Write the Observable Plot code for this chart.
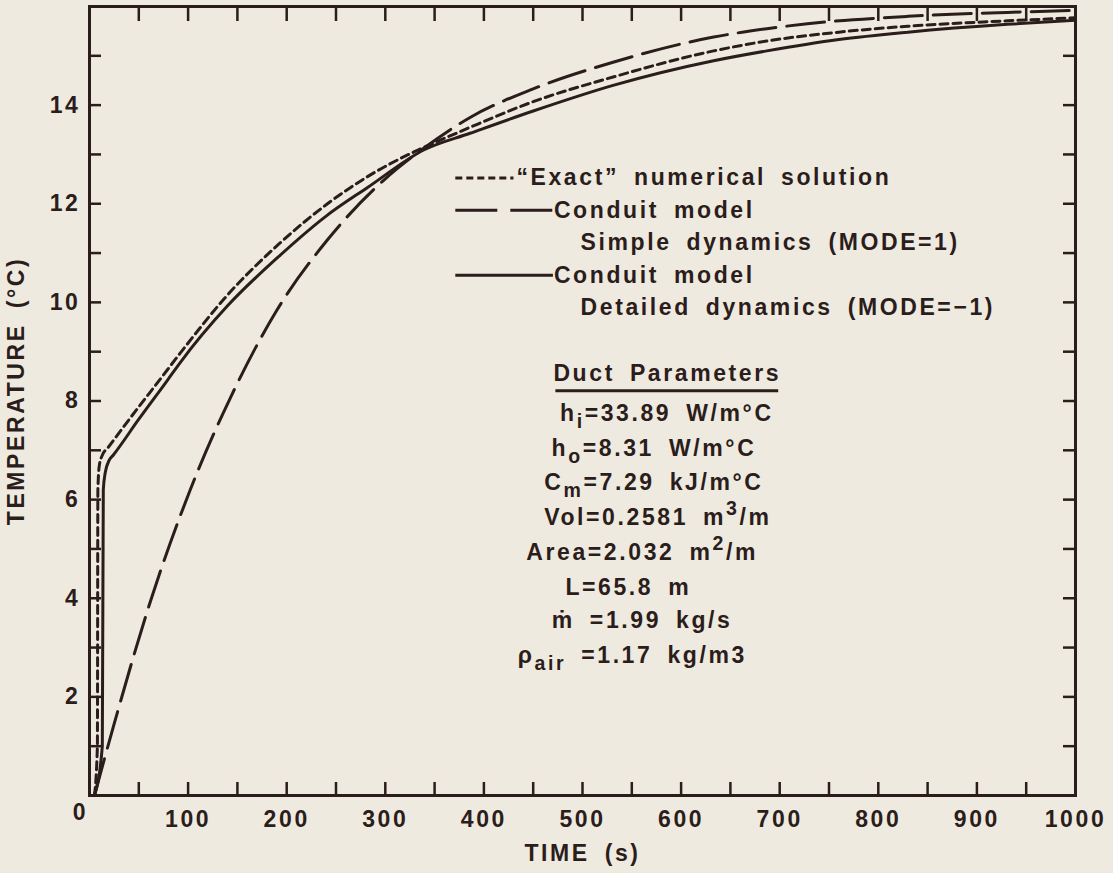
<!DOCTYPE html>
<html><head><meta charset="utf-8">
<script src="https://cdn.jsdelivr.net/npm/d3@7"></script>
<script src="https://cdn.jsdelivr.net/npm/@observablehq/plot@0.6"></script>
<style>
html,body{margin:0;padding:0;background:#efeadf;}
#chart svg{display:block;}
</style></head><body><div id="chart"></div>
<script>
// ---- data ----
const exactTime = [5, 8, 8.5, 10, 13, 19, 40, 72, 92, 140, 193, 240, 282, 329, 340, 386, 450, 531, 633, 687, 760, 830, 931, 1000];
const exactTemp = [0, 1, 6.2, 6.7, 6.9, 7.06, 7.62, 8.45, 8.97, 10.15, 11.2, 11.98, 12.55, 13.05, 13.15, 13.55, 14.07, 14.57, 15.1, 15.3, 15.48, 15.6, 15.71, 15.77];

const simpleTime = [5, 24, 62, 102, 143, 190, 241, 298, 340, 386, 450, 531, 633, 687, 728, 830, 931, 1000];
const simpleTemp = [0, 1.38, 3.95, 6.19, 8.07, 9.84, 11.26, 12.47, 13.14, 13.75, 14.33, 14.87, 15.38, 15.55, 15.65, 15.8, 15.88, 15.92];

const detailedTime = [5, 13, 14, 16, 20, 24, 50, 79, 92, 140, 193, 240, 282, 340, 386, 450, 531, 633, 687, 760, 830, 931, 1000];
const detailedTemp = [0, 1, 6.2, 6.55, 6.8, 6.9, 7.63, 8.42, 8.78, 9.93, 10.95, 11.75, 12.33, 13.1, 13.43, 13.88, 14.4, 14.9, 15.1, 15.33, 15.48, 15.64, 15.72];

const xTickLabels = [100, 200, 300, 400, 500, 600, 700, 800, 900, 1000];
const yTickLabels = [2, 4, 6, 8, 10, 12, 14];
const xMinorTicks = [50, 100, 150, 200, 250, 300, 350, 400, 450, 500, 550, 600, 650, 700, 750, 800, 850, 900, 950];
const yMinorTicks = [1, 2, 3, 4, 5, 6, 7, 8, 9, 10, 11, 12, 13, 14, 15];

const legendLabels = ["\u201CExact\u201D numerical solution", "Conduit model", "Simple dynamics (MODE=1)", "Conduit model", "Detailed dynamics (MODE=\u22121)"];
const legendTextX = [433, 471, 498, 471, 498];
const legendTextY = [12.52, 11.87, 11.22, 10.55, 9.90];
const legendLineX1 = [371, 371, 371];
const legendLineX2 = [430, 470, 470];
const legendLineY = [12.52, 11.87, 10.55];

const ductTitle = "Duct Parameters";
const ductLines = [
  [["h", ""], ["i", "sub"], ["=33.89 W/m\u00B0C", ""]],
  [["h", ""], ["o", "sub"], ["=8.31 W/m\u00B0C", ""]],
  [["C", ""], ["m", "sub"], ["=7.29 kJ/m\u00B0C", ""]],
  [["Vol=0.2581 m", ""], ["3", "sup"], ["/m", ""]],
  [["Area=2.032 m", ""], ["2", "sup"], ["/m", ""]],
  [["L=65.8 m", ""]],
  [["\u1E41 =1.99 kg/s", ""]],
  [["\u03C1", ""], ["air", "sub"], [" =1.17 kg/m3", ""]]
];
const ductX = [586, 573, 573, 577, 561, 547, 561, 551];
const ductY = [7.75, 7.04, 6.35, 5.64, 4.93, 4.22, 3.55, 2.84];
const ductTitleX = 586, ductTitleY = 8.56, ductRuleY = 8.21, ductRuleX1 = 473, ductRuleX2 = 699;

// ---- layout ----
const ink = "#2b1d1b";
const W = 1113, H = 873, mL = 89, mR = 38, mT = 6, mB = 78;
const innerH = H - mT - mB, innerW = W - mL - mR;
const FS = 23;

const rows = (t, v) => t.map((d, i) => ({t: d, T: v[i]}));
const exactRows = rows(exactTime, exactTemp);
const simpleRows = rows(simpleTime, simpleTemp);
const detailedRows = rows(detailedTime, detailedTemp);
const legendText = legendLabels.map((l, i) => ({label: l, x: legendTextX[i], y: legendTextY[i]}));
const legendLines = legendLineY.map((y, i) => ({x1: legendLineX1[i], x2: legendLineX2[i], y}));

const lineOpts = {x: "t", y: "T", stroke: ink, strokeWidth: 3, strokeLinejoin: "round", curve: "monotone-x"};

const plot = Plot.plot({
  width: W, height: H,
  marginLeft: mL, marginRight: mR, marginTop: mT, marginBottom: mB,
  x: {domain: [0, 1000]},
  y: {domain: [0, 16]},
  style: {background: "transparent", color: ink, fontFamily: "'Liberation Sans', Arial, Helvetica, 'DejaVu Sans', sans-serif", fontWeight: "bold", letterSpacing: "2.6px", wordSpacing: "6px", fontSize: FS + "px"},
  marks: [
    Plot.ruleX(xMinorTicks, {x: d => d, insetTop: innerH - 13, stroke: ink, strokeWidth: 2.5}),
    Plot.ruleX(xMinorTicks, {x: d => d, insetBottom: innerH - 15, stroke: ink, strokeWidth: 2.5}),
    Plot.ruleY(yMinorTicks, {y: d => d, insetRight: innerW - 12, stroke: ink, strokeWidth: 2.5}),
    Plot.ruleY(yMinorTicks, {y: d => d, insetLeft: innerW - 12, stroke: ink, strokeWidth: 2.5}),
    Plot.line(exactRows, {...lineOpts, strokeDasharray: "8,5"}),
    Plot.line(simpleRows, {...lineOpts, strokeDasharray: "38,11"}),
    Plot.line(detailedRows, lineOpts),
    Plot.frame({stroke: ink, strokeWidth: 3}),
    Plot.axisX(xTickLabels, {tickSize: 0, tickPadding: 15, fontSize: FS, label: null, tickFormat: d => String(d)}),
    Plot.axisY(yTickLabels, {tickSize: 0, tickPadding: 9, fontSize: FS, label: null, tickFormat: d => String(d)}),
    Plot.text(["0"], {x: 0, y: 0, text: d => d, dx: -9, dy: 17, fontSize: FS, fill: ink}),
    Plot.text(["TEMPERATURE (\u00B0C)"], {frameAnchor: "left", textAnchor: "middle", lineAnchor: "middle", text: d => d, rotate: -90, dx: -73, dy: -10, fontSize: FS, fill: ink}),
    Plot.text(["TIME (s)"], {frameAnchor: "bottom", textAnchor: "middle", lineAnchor: "middle", text: d => d, dy: 58, fontSize: FS, fill: ink}),
    // legend
    Plot.link([legendLines[0]], {x1: "x1", x2: "x2", y1: "y", y2: "y", stroke: ink, strokeWidth: 3, strokeDasharray: "7,4"}),
    Plot.link([legendLines[1]], {x1: "x1", x2: "x2", y1: "y", y2: "y", stroke: ink, strokeWidth: 3, strokeDasharray: "42,13"}),
    Plot.link([legendLines[2]], {x1: "x1", x2: "x2", y1: "y", y2: "y", stroke: ink, strokeWidth: 3}),
    Plot.text(legendText, {x: "x", y: "y", text: "label", textAnchor: "start", fontSize: FS, fill: ink}),
    // duct title & rule
    Plot.text([ductTitle], {x: ductTitleX, y: ductTitleY, text: d => d, fontSize: FS, fill: ink}),
    Plot.ruleY([ductRuleY], {x1: ductRuleX1, x2: ductRuleX2, stroke: ink, strokeWidth: 3})
  ]
});

// duct parameter lines with sub/superscripts, positioned through the plot's scales
const sx = plot.scale("x").apply, sy = plot.scale("y").apply;
const g = d3.select(plot).append("g")
  .attr("fill", ink).attr("font-size", FS).attr("text-anchor", "middle");
ductLines.forEach((parts, i) => {
  const t = g.append("text").attr("x", sx(ductX[i])).attr("y", sy(ductY[i]) + 8);
  parts.forEach(([s, kind]) => {
    const ts = t.append("tspan").text(s);
    if (kind === "sub") ts.attr("font-size", FS * 0.85).attr("baseline-shift", "-0.35em");
    if (kind === "sup") ts.attr("font-size", FS * 0.85).attr("baseline-shift", "0.5em");
  });
});

document.getElementById("chart").append(plot);
</script></body></html>
